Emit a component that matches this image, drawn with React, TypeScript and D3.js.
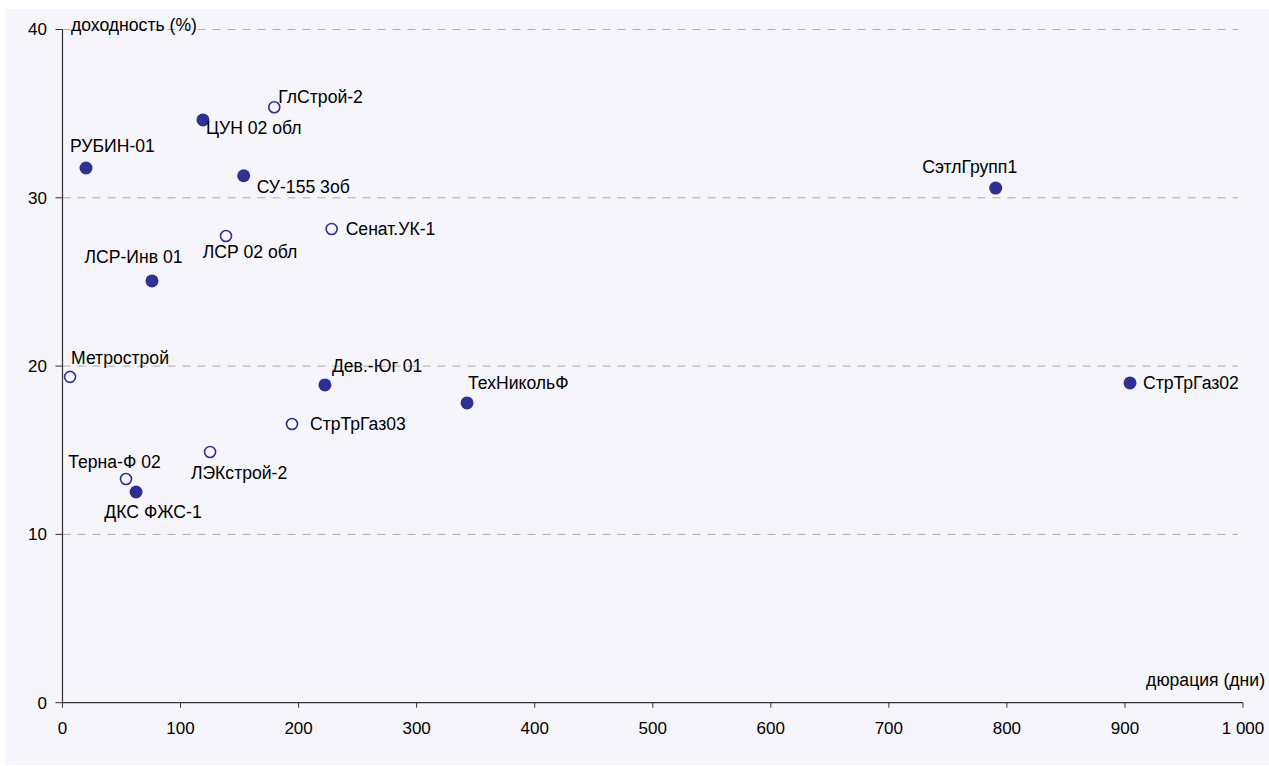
import React from "react";
import * as d3 from "d3";

const names = ["РУБИН-01", "ЦУН 02 обл", "ГлСтрой-2", "СУ-155 3об", "СэтлГрупп1", "Сенат.УК-1", "ЛСР 02 обл", "ЛСР-Инв 01", "Метрострой", "Дев.-Юг 01", "ТехНикольФ", "СтрТрГаз02", "СтрТрГаз03", "ЛЭКстрой-2", "Терна-Ф 02", "ДКС ФЖС-1"];
const durations = [19.9, 119, 179.4, 153.5, 790.5, 228, 138.5, 75.8, 6.4, 222.3, 342.7, 904.3, 194.4, 125, 53.8, 62.3];
const yields = [31.77, 34.63, 35.38, 31.31, 30.58, 28.15, 27.73, 25.06, 19.36, 18.88, 17.81, 19.0, 16.56, 14.9, 13.29, 12.52];
const filled = [true, true, false, true, true, false, false, true, false, true, true, true, false, false, false, true];
const xTicks = [0, 100, 200, 300, 400, 500, 600, 700, 800, 900, 1000];
const yTicks = [0, 10, 20, 30, 40];
const xTitle = "дюрация (дни)";
const yTitle = "доходность (%)";

// label placement (layout only): [dx, dy, anchor]
const labelLayout: [number, number, string][] = [
  [-16, -22, "start"],
  [3, 8, "start"],
  [4, -10, "start"],
  [13, 11, "start"],
  [-26, -21, "middle"],
  [14, 0, "start"],
  [24, 16, "middle"],
  [-18.5, -24, "middle"],
  [1, -19, "start"],
  [7, -19, "start"],
  [1, -20, "start"],
  [13, 0, "start"],
  [18, 0, "start"],
  [29, 21, "middle"],
  [-11.5, -17, "middle"],
  [17, 20, "middle"],
];

const W = 1269, H = 766;
const x0 = 62.5, x1 = 1243, yTop = 29.5, yBot = 702.7;
const color = "#2E3192";
const font = "Arial, 'Liberation Sans', sans-serif";
const fs = 17.6;
const tfs = 17;

export default function App() {
  const x = d3.scaleLinear().domain([0, 1000]).range([x0, x1]);
  const y = d3.scaleLinear().domain([0, 40]).range([yBot, yTop]);
  const fmt = (v: number) => d3.format(",")(v).replace(/,/g, " ");
  return (
    <svg width={W} height={H} style={{ position: "absolute", left: 0, top: 0 }} fontFamily={font}>
      <rect x={5} y={9} width={W - 5} height={H - 10} fill="#F5F5FB" />
      {yTicks.filter(t => t > 0).map(t => (
        <line key={"g" + t} x1={x(0)} x2={1238} y1={y(t)} y2={y(t)} stroke="#ADADAD" strokeWidth={1} strokeDasharray="8,7" />
      ))}
      <line x1={x(0)} x2={x(0)} y1={y(40)} y2={y(0)} stroke="#333" strokeWidth={1.2} />
      <line x1={x(0)} x2={x(1000)} y1={y(0)} y2={y(0)} stroke="#333" strokeWidth={1.2} />
      {yTicks.map(t => (
        <g key={"yt" + t}>
          <line x1={x(0) - 7} x2={x(0)} y1={y(t)} y2={y(t)} stroke="#333" strokeWidth={1} />
          <text x={47} y={y(t)} dy="0.35em" textAnchor="end" fontSize={tfs} fill="#000">{t}</text>
        </g>
      ))}
      {xTicks.map(t => (
        <g key={"xt" + t}>
          <line x1={x(t)} x2={x(t)} y1={y(0)} y2={y(0) + 5} stroke="#333" strokeWidth={1} />
          <text x={x(t)} y={728} dy="0.35em" textAnchor="middle" fontSize={tfs} fill="#000">{fmt(t)}</text>
        </g>
      ))}
      <text x={71} y={25} dy="0.35em" fontSize={fs} fill="#000">{yTitle}</text>
      <text x={1265} y={680} dy="0.35em" textAnchor="end" fontSize={fs} fill="#000">{xTitle}</text>
      {names.map((n, i) => {
        const cx = x(durations[i]);
        const cy = y(yields[i]);
        const [dx, dy, anchor] = labelLayout[i];
        return (
          <g key={n}>
            {filled[i] ? (
              <circle cx={cx} cy={cy} r={6.5} fill={color} />
            ) : (
              <circle cx={cx} cy={cy} r={5.5} fill="none" stroke={color} strokeWidth={1.6} />
            )}
            <text x={cx + dx} y={cy + dy} dy="0.35em" textAnchor={anchor as any} fontSize={fs} fill="#000">{n}</text>
          </g>
        );
      })}
    </svg>
  );
}
